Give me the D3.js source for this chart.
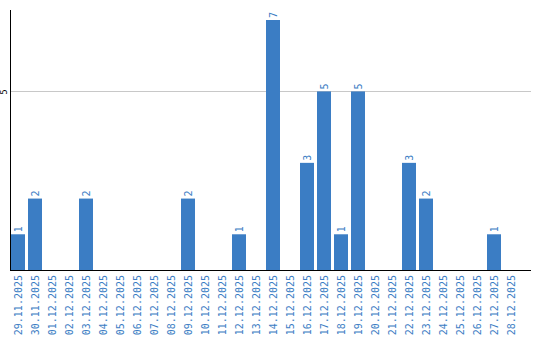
<!DOCTYPE html>
<html><head><meta charset="utf-8">
<script src="https://cdn.jsdelivr.net/npm/d3@7"></script>
<style>body{margin:0;background:#fff}svg{display:block}</style>
</head><body>
<script>
const dates = ["29.11.2025","30.11.2025","01.12.2025","02.12.2025","03.12.2025","04.12.2025","05.12.2025","06.12.2025","07.12.2025","08.12.2025","09.12.2025","10.12.2025","11.12.2025","12.12.2025","13.12.2025","14.12.2025","15.12.2025","16.12.2025","17.12.2025","18.12.2025","19.12.2025","20.12.2025","21.12.2025","22.12.2025","23.12.2025","24.12.2025","25.12.2025","26.12.2025","27.12.2025","28.12.2025"];
const counts = [1,2,0,0,2,0,0,0,0,0,2,0,0,1,0,7,0,3,5,1,5,0,0,3,2,0,0,0,1,0];
const yTicks = [5];

const W = 540, H = 340;
const color = "#3b7dc4";
const svg = d3.select("body").append("svg").attr("width", W).attr("height", H);

const x = d3.scaleBand().domain(dates).range([9.5, 519.5]).paddingInner(3/17).paddingOuter(1.5/17);
const y = d3.scaleLinear().domain([0, 7]).range([270, 20]);

// grid
svg.append("g").selectAll("line").data(yTicks).join("line")
  .attr("x1", 11).attr("x2", 531)
  .attr("y1", d => Math.round(y(d)) + 0.5).attr("y2", d => Math.round(y(d)) + 0.5)
  .attr("stroke", "#c8c8c8").attr("stroke-width", 1);

// bars
const data = dates.map((d, i) => ({d, v: counts[i]}));
svg.append("g").selectAll("rect").data(data.filter(e => e.v > 0)).join("rect")
  .attr("x", e => x(e.d)).attr("width", x.bandwidth())
  .attr("y", e => y(e.v)).attr("height", e => y(0) - y(e.v))
  .attr("fill", color);

// value labels
svg.append("g").selectAll("text").data(data.filter(e => e.v > 0)).join("text")
  .attr("transform", e => `translate(${x(e.d) + x.bandwidth()/2 + 3.5},${y(e.v) - 2}) rotate(-90)`)
  .attr("font-family", "DejaVu Sans Mono, monospace").attr("font-size", 10)
  .attr("fill", color).attr("text-anchor", "start")
  .text(e => e.v);

// x axis labels
const xAxis = d3.axisBottom(x).tickSize(0).tickPadding(0);
const gx = svg.append("g").attr("transform", "translate(0,270)").call(xAxis);
gx.select(".domain").remove();
gx.selectAll("text")
  .attr("font-family", "DejaVu Sans Mono, monospace").attr("font-size", 10)
  .attr("fill", color)
  .attr("text-anchor", "end")
  .attr("dy", null).attr("y", 0)
  .attr("transform", "translate(3.5,5) rotate(-90)");

// y axis
const yAxis = d3.axisLeft(y).tickValues(yTicks).tickFormat(d3.format("d")).tickSize(0).tickPadding(0);
const gy = svg.append("g").attr("transform", "translate(10,0)").call(yAxis);
gy.select(".domain").remove();
gy.selectAll("text")
  .attr("font-family", "DejaVu Sans, sans-serif").attr("font-size", 8)
  .attr("fill", "#000").attr("text-anchor", "middle").attr("dy", null).attr("x", 0)
  .attr("transform", "translate(-3,0) rotate(-90)");

// axis lines
svg.append("line").attr("x1", 10.5).attr("x2", 10.5).attr("y1", 10).attr("y2", 271).attr("stroke", "#000");
svg.append("line").attr("x1", 10).attr("x2", 531).attr("y1", 270.5).attr("y2", 270.5).attr("stroke", "#000");
</script>
</body></html>
